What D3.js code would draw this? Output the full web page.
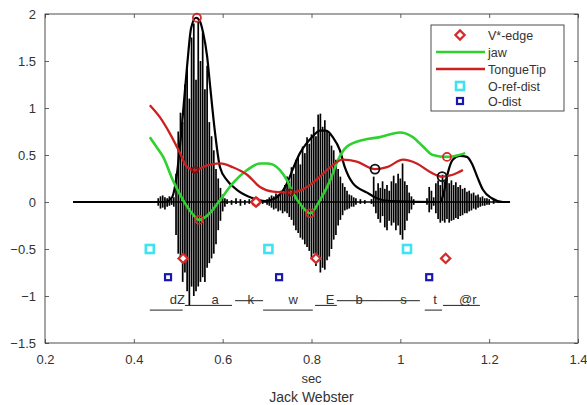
<!DOCTYPE html>
<html>
<head>
<meta charset="utf-8">
<script src="https://cdn.jsdelivr.net/npm/d3@7"></script>
<style>
  body { margin: 0; background: #fff; }
  svg { display: block; font-family: "Liberation Sans", Arial, sans-serif; }
</style>
</head>
<body>
<svg id="chart" width="587" height="405"></svg>
<script>
// axis ticks
var xTicks = [0.2, 0.4, 0.6, 0.8, 1, 1.2, 1.4]
var yTicks = [-1.5, -1, -0.5, 0, 0.5, 1, 1.5, 2]

// audio waveform, min/max per bin (sec, value)
var waveT  = [0.455,0.46,0.465,0.47,0.475,0.48,0.485,0.49,0.495,0.5,0.505,0.51,0.515,0.52,0.525,0.53,0.535,0.54,0.545,0.55,0.555,0.56,0.565,0.57,0.575,0.58,0.585,0.59,0.595,0.6,0.605,
              0.61,0.62,0.63,0.64,0.65,0.66,0.67,0.68,0.69,
              0.7,0.705,0.71,0.715,0.72,0.725,0.73,0.735,0.74,0.745,0.75,0.755,0.76,0.765,0.77,0.775,0.78,0.785,0.79,0.795,0.8,0.805,0.81,0.815,0.82,0.825,0.83,0.835,0.84,0.845,0.85,0.855,0.86,0.865,0.87,0.875,0.88,0.885,0.89,0.895,0.9,0.91,0.92,
              0.935,0.94,0.945,0.95,0.955,0.96,0.965,0.97,0.975,0.98,0.985,0.99,0.995,1.0,1.005,1.01,1.015,1.02,1.025,1.03,
              1.06,1.065,1.07,1.075,1.08,1.085,1.09,1.095,1.1,1.105,1.11,1.115,1.12,1.125,1.13,1.135,1.14,1.145,1.15,1.155,1.16,1.165,1.17,1.175,1.18,1.185,1.19,1.195,1.2,1.21,1.22]
var waveHi = [0.04,0.06,0.07,0.05,0.04,0.06,0.03,0.05,0.30,0.75,0.95,0.85,1.25,1.45,1.10,1.75,1.90,1.30,1.92,1.50,1.80,1.20,1.45,0.85,0.70,0.55,0.35,0.25,0.15,0.08,0.04,
              0.03,0.02,0.04,0.03,0.02,0.03,0.02,0.03,0.02,
              0.03,0.05,0.07,0.06,0.09,0.08,0.12,0.10,0.18,0.27,0.22,0.37,0.30,0.45,0.48,0.40,0.59,0.52,0.69,0.62,0.72,0.80,0.70,0.93,0.94,0.80,0.87,0.76,0.73,0.60,0.55,0.45,0.35,0.27,0.20,0.16,0.12,0.08,0.07,0.05,0.04,0.03,0.02,
              0.03,0.27,0.12,0.20,0.15,0.22,0.14,0.18,0.12,0.22,0.28,0.20,0.30,0.25,0.41,0.22,0.18,0.10,0.06,0.03,
              0.04,0.16,0.12,0.05,0.20,0.23,0.18,0.29,0.22,0.25,0.20,0.23,0.18,0.21,0.16,0.18,0.14,0.15,0.11,0.12,0.09,0.10,0.07,0.08,0.05,0.06,0.04,0.04,0.03,0.02,0.01]
var waveLo = [-0.04,-0.07,-0.06,-0.08,-0.05,-0.04,-0.03,-0.05,-0.35,-0.55,-0.60,-0.85,-0.75,-0.95,-1.10,-0.90,-1.00,-0.95,-0.90,-0.85,-0.80,-0.85,-0.70,-0.65,-0.60,-0.55,-0.45,-0.30,-0.20,-0.10,-0.05,
              -0.02,-0.03,-0.02,-0.04,-0.03,-0.02,-0.03,-0.02,-0.02,
              -0.03,-0.04,-0.06,-0.08,-0.07,-0.10,-0.09,-0.12,-0.10,-0.12,-0.16,-0.19,-0.25,-0.30,-0.33,-0.38,-0.40,-0.45,-0.48,-0.52,-0.60,-0.55,-0.68,-0.62,-0.75,-0.70,-0.72,-0.62,-0.58,-0.50,-0.40,-0.35,-0.25,-0.19,-0.14,-0.09,-0.08,-0.07,-0.05,-0.05,-0.03,-0.02,-0.02,
              -0.02,-0.05,-0.12,-0.18,-0.22,-0.15,-0.27,-0.30,-0.20,-0.25,-0.22,-0.30,-0.25,-0.35,-0.40,-0.30,-0.20,-0.12,-0.08,-0.03,
              -0.03,-0.11,-0.08,-0.04,-0.12,-0.18,-0.22,-0.20,-0.22,-0.18,-0.22,-0.20,-0.19,-0.17,-0.18,-0.15,-0.14,-0.12,-0.12,-0.10,-0.09,-0.07,-0.08,-0.06,-0.05,-0.04,-0.04,-0.03,-0.03,-0.02,-0.01]
var waveSpan = [0.263, 1.247]

// smoothed amplitude envelope
var envT = [0.263,0.47,0.486,0.497,0.508,0.52,0.529,0.54,0.549,0.556,0.565,0.571,0.583,0.594,0.61,0.632,0.668,0.695,0.707,0.729,0.745,0.758,0.774,0.79,0.803,0.819,0.833,0.848,0.864,0.875,0.893,0.925,0.947,0.977,1.089,1.098,1.107,1.118,1.134,1.15,1.161,1.173,1.186,1.206,1.231,1.247]
var envV = [0,0,0.05,0.3,0.8,1.45,1.85,1.96,1.92,1.8,1.55,1.27,0.73,0.37,0.23,0.13,0.04,0.01,0.02,0.08,0.2,0.35,0.52,0.63,0.7,0.76,0.76,0.69,0.55,0.37,0.2,0.1,0.04,0.01,0,0.1,0.31,0.45,0.49,0.48,0.41,0.27,0.13,0.04,0,0]

// jaw
var jawT = [0.436,0.452,0.466,0.488,0.511,0.531,0.547,0.571,0.594,0.623,0.655,0.684,0.702,0.729,0.745,0.758,0.779,0.797,0.819,0.842,0.86,0.88,0.916,0.954,0.999,1.028,1.051,1.073,1.105,1.123,1.146]
var jawV = [0.69,0.58,0.48,0.23,0.02,-0.12,-0.19,-0.12,0.02,0.2,0.34,0.41,0.41,0.34,0.23,0.1,-0.05,-0.12,0.02,0.23,0.45,0.59,0.66,0.69,0.74,0.69,0.59,0.5,0.48,0.49,0.52]

// tongue tip
var ttT = [0.436,0.459,0.481,0.504,0.52,0.538,0.565,0.594,0.623,0.655,0.684,0.713,0.752,0.79,0.819,0.842,0.871,0.902,0.943,0.97,1.006,1.037,1.067,1.094,1.118,1.141]
var ttV = [1.03,0.9,0.73,0.52,0.37,0.34,0.39,0.41,0.37,0.29,0.16,0.11,0.1,0.16,0.27,0.37,0.45,0.43,0.35,0.37,0.45,0.41,0.32,0.27,0.29,0.34]

// markers
var edgeT = [0.511, 0.675, 0.81, 1.102]
var edgeV = [-0.6, 0, -0.6, -0.6]
var refDistT = [0.436, 0.703, 1.015]
var refDistV = [-0.5, -0.5, -0.5]
var distT = [0.477, 0.727, 1.065]
var distV = [-0.8, -0.8, -0.8]
var redRingT = [0.542, 0.547, 0.675, 0.797, 1.105]
var redRingV = [1.96, -0.19, 0, -0.12, 0.48]
var darkRingT = [0.538, 0.752]
var darkRingV = [0.34, 0.1]
var blackRingT = [0.943, 1.094]
var blackRingV = [0.35, 0.27]

// phone segmentation
var phoneLabels = ['dZ','a','k','w','E','b','s','t','@r']
var phoneStart  = [0.436,0.515,0.628,0.691,0.808,0.857,0.95,1.055,1.096]
var phoneEnd    = [0.51,0.621,0.691,0.803,0.857,0.95,1.044,1.094,1.179]
var phoneLevel  = [-1.15,-1.1,-1.05,-1.15,-1.1,-1.05,-1.05,-1.15,-1.1]
var phoneLabelT = [0.498,0.583,0.663,0.759,0.842,0.907,1.007,1.078,1.152]

var legendLabels = ['V*-edge','jaw','TongueTip','O-ref-dist','O-dist']

var RED = '#d42a2a', GREEN = '#2ed12e', TT_RED = '#cc2020',
	CYAN = '#3fe3ef', BLUE = '#1818b0', AXIS = '#3a3a3a', TEXT = '#333'

var svg = d3.select('#chart')
var L = 45, R = 578, T = 14, B = 343

var x = d3.scaleLinear().domain([0.2, 1.4]).range([L, R])
var y = d3.scaleLinear().domain([-1.5, 2]).range([B, T])

svg.append('rect').attr('width', 587).attr('height', 405).attr('fill', '#fff')

// axes, matlab style: box with inward ticks on all sides
var gx = svg.append('g').attr('transform', 'translate(0,' + B + ')')
	.call(d3.axisBottom(x).tickValues(xTicks).tickFormat(d3.format('')).tickSize(-4).tickSizeOuter(0).tickPadding(12))
var gy = svg.append('g').attr('transform', 'translate(' + L + ',0)')
	.call(d3.axisLeft(y).tickValues(yTicks).tickFormat(d3.format('')).tickSize(-4).tickSizeOuter(0).tickPadding(9))
var gx2 = svg.append('g').attr('transform', 'translate(0,' + T + ')')
	.call(d3.axisTop(x).tickValues(xTicks).tickFormat('').tickSize(-4).tickSizeOuter(0))
var gy2 = svg.append('g').attr('transform', 'translate(' + R + ',0)')
	.call(d3.axisRight(y).tickValues(yTicks).tickFormat('').tickSize(-4).tickSizeOuter(0))

svg.selectAll('.domain').remove()
svg.selectAll('.tick line').attr('stroke', AXIS).attr('stroke-width', 0.8)
svg.selectAll('.tick text').attr('font-size', 13).attr('fill', TEXT).attr('font-family', '"Liberation Sans", Arial, sans-serif')

svg.append('rect')
	.attr('x', L).attr('y', T).attr('width', R - L).attr('height', B - T)
	.attr('fill', 'none').attr('stroke', AXIS).attr('stroke-width', 0.9)

svg.append('text').text('sec')
	.attr('x', (L + R) / 2).attr('y', 383).attr('text-anchor', 'middle')
	.attr('font-size', 13).attr('fill', TEXT)
svg.append('text').text('Jack Webster')
	.attr('x', (L + R) / 2).attr('y', 402).attr('text-anchor', 'middle')
	.attr('font-size', 14).attr('fill', TEXT)

var plot = svg.append('g')

// waveform
plot.append('line')
	.attr('x1', x(waveSpan[0])).attr('x2', x(waveSpan[1]))
	.attr('y1', y(0)).attr('y2', y(0))
	.attr('stroke', '#000').attr('stroke-width', 1.5)

plot.selectAll('line.wave')
	.data(waveT)
	.enter().append('line')
	.attr('class', 'wave')
	.attr('x1', function(d){ return x(d) })
	.attr('x2', function(d){ return x(d) })
	.attr('y1', function(d, i){ return y(waveHi[i]) })
	.attr('y2', function(d, i){ return y(waveLo[i]) })
	.attr('stroke', '#000').attr('stroke-width', 1.7)

var line = d3.line().curve(d3.curveMonotoneX)
	.x(function(d){ return x(d[0]) })
	.y(function(d){ return y(d[1]) })

function pairs(ts, vs){ return ts.map(function(t, i){ return [t, vs[i]] }) }

plot.append('path').datum(pairs(envT, envV))
	.attr('d', line).attr('fill', 'none').attr('stroke', '#000').attr('stroke-width', 2.2)
plot.append('path').datum(pairs(jawT, jawV))
	.attr('d', line).attr('fill', 'none').attr('stroke', GREEN).attr('stroke-width', 2.6)
plot.append('path').datum(pairs(ttT, ttV))
	.attr('d', line).attr('fill', 'none').attr('stroke', TT_RED).attr('stroke-width', 2.3)

// phone segments
plot.selectAll('line.phone')
	.data(phoneLabels)
	.enter().append('line')
	.attr('class', 'phone')
	.attr('x1', function(d, i){ return x(phoneStart[i]) })
	.attr('x2', function(d, i){ return x(phoneEnd[i]) })
	.attr('y1', function(d, i){ return y(phoneLevel[i]) })
	.attr('y2', function(d, i){ return y(phoneLevel[i]) })
	.attr('stroke', '#222').attr('stroke-width', 1)

plot.selectAll('text.phone')
	.data(phoneLabels)
	.enter().append('text')
	.attr('class', 'phone')
	.text(function(d){ return d })
	.attr('x', function(d, i){ return x(phoneLabelT[i]) })
	.attr('y', y(-1.085))
	.attr('text-anchor', 'middle')
	.attr('font-size', 13).attr('fill', TEXT)

// rings
function rings(ts, vs, color, r, w){
	plot.append('g').selectAll('circle')
		.data(ts)
		.enter().append('circle')
		.attr('cx', function(d){ return x(d) })
		.attr('cy', function(d, i){ return y(vs[i]) })
		.attr('r', r)
		.attr('fill', 'none').attr('stroke', color).attr('stroke-width', w)
}
rings(redRingT, redRingV, RED, 4, 1.8)
rings(darkRingT, darkRingV, '#7a1010', 3, 1.8)
rings(blackRingT, blackRingV, '#111', 4.5, 1.8)

// markers
var diamond = d3.symbol().type(d3.symbolDiamond2).size(55)
function diamonds(g, ts, vs){
	g.selectAll('path')
		.data(ts)
		.enter().append('path')
		.attr('d', diamond)
		.attr('transform', function(d, i){ return 'translate(' + x(d) + ',' + y(vs[i]) + ')' })
		.attr('fill', '#fff').attr('stroke', RED).attr('stroke-width', 2.2)
}
diamonds(plot.append('g'), edgeT, edgeV)

function squares(ts, vs, color, s, w){
	plot.append('g').selectAll('rect')
		.data(ts)
		.enter().append('rect')
		.attr('x', function(d){ return x(d) - s / 2 })
		.attr('y', function(d, i){ return y(vs[i]) - s / 2 })
		.attr('width', s).attr('height', s)
		.attr('fill', '#fff').attr('stroke', color).attr('stroke-width', w)
}
squares(refDistT, refDistV, CYAN, 8, 2.6)
squares(distT, distV, BLUE, 6, 2.2)

// legend
var leg = svg.append('g')
leg.append('rect')
	.attr('x', 431).attr('y', 25).attr('width', 133).attr('height', 86)
	.attr('fill', '#fff').attr('stroke', AXIS).attr('stroke-width', 0.9)

var rowY = [35, 52, 69, 86, 101]
leg.selectAll('text')
	.data(legendLabels)
	.enter().append('text')
	.text(function(d){ return d })
	.attr('x', 488).attr('y', function(d, i){ return rowY[i] + 4.5 })
	.attr('font-size', 12.5).attr('fill', TEXT)

leg.append('path').attr('d', diamond)
	.attr('transform', 'translate(460,' + rowY[0] + ')')
	.attr('fill', '#fff').attr('stroke', RED).attr('stroke-width', 2.2)
leg.append('line').attr('x1', 436).attr('x2', 485).attr('y1', rowY[1]).attr('y2', rowY[1])
	.attr('stroke', GREEN).attr('stroke-width', 2.6)
leg.append('line').attr('x1', 436).attr('x2', 485).attr('y1', rowY[2]).attr('y2', rowY[2])
	.attr('stroke', TT_RED).attr('stroke-width', 2.3)
leg.append('rect').attr('x', 456).attr('y', rowY[3] - 4).attr('width', 8).attr('height', 8)
	.attr('fill', '#fff').attr('stroke', CYAN).attr('stroke-width', 2.6)
leg.append('rect').attr('x', 457).attr('y', rowY[4] - 3).attr('width', 6).attr('height', 6)
	.attr('fill', '#fff').attr('stroke', BLUE).attr('stroke-width', 2.2)
</script>
</body>
</html>
